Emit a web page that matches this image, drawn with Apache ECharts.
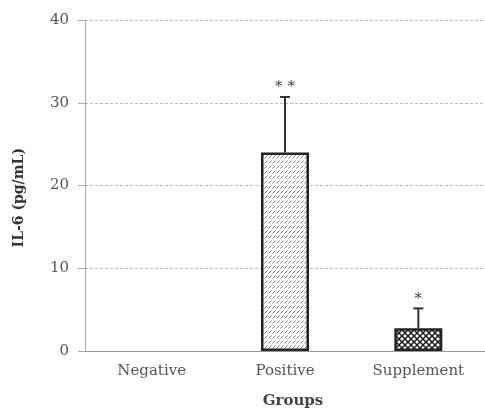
<!DOCTYPE html>
<html><head><meta charset="utf-8">
<script src="https://cdn.jsdelivr.net/npm/echarts@6/dist/echarts.min.js"></script>
<style>html,body{margin:0;padding:0;background:#fff}#c{width:485px;height:414px}</style>
</head><body><div id="c"></div>
<script>
const categories = ['Negative', 'Positive', 'Supplement'];
const means = [0, 24, 2.75];
const errorTops = [0, 30.7, 5.15];
const marks = ['', '* *', '*'];
const yTicks = [0, 10, 20, 30, 40];

function hatch() {
  const c = document.createElement('canvas'); c.width = 4; c.height = 5;
  const g = c.getContext('2d');
  g.fillStyle = '#fff'; g.fillRect(0, 0, 4, 5);
  g.strokeStyle = '#777'; g.lineWidth = 1;
  g.beginPath(); g.moveTo(0.5, 3.5); g.lineTo(3.5, 0.5); g.stroke();
  return c;
}
function cross() {
  const c = document.createElement('canvas'); c.width = 6; c.height = 6;
  const g = c.getContext('2d');
  g.fillStyle = '#fff'; g.fillRect(0, 0, 6, 6);
  g.strokeStyle = '#1a1a1a'; g.lineWidth = 1.5;
  g.beginPath(); g.moveTo(0, 0); g.lineTo(6, 6); g.moveTo(6, 0); g.lineTo(0, 6); g.stroke();
  return c;
}
const patterns = [null, hatch(), cross()];

const chart = echarts.init(document.getElementById('c'));
const font = '"DejaVu Serif", "Liberation Serif", serif';
chart.setOption({
  animation: false,
  grid: { left: 85, width: 417, top: 20, bottom: 60 },
  xAxis: {
    type: 'category', data: categories,
    axisLine: { lineStyle: { color: '#999' } },
    axisTick: { show: false },
    axisLabel: { color: '#555', fontFamily: font, fontSize: 15, margin: 13 },
    name: 'Groups', nameLocation: 'middle', nameGap: 43,
    nameTextStyle: { color: '#444', fontFamily: font, fontSize: 15, fontWeight: 'bold', padding: [0, 0, 0, 16] }
  },
  yAxis: {
    type: 'value', min: 0, max: 40, interval: 10,
    axisLine: { show: true, lineStyle: { color: '#aaa' } },
    axisTick: { show: true, length: 7, lineStyle: { color: '#aaa' } },
    axisLabel: { color: '#555', fontFamily: font, fontSize: 15, margin: 16,
      formatter: v => yTicks.includes(v) ? String(v) : '' },
    splitLine: { lineStyle: { color: '#bbb', type: [3, 2] } }
  },
  graphic: [{
    type: 'text', left: 12, top: 148, rotation: Math.PI / 2,
    style: { text: 'IL-6 (pg/mL)', fill: '#333', font: 'bold 14px ' + font }
  }],
  series: [
    {
      type: 'bar', barWidth: '36%',
      data: means.map((v, i) => ({
        value: v,
        itemStyle: patterns[i] ? { color: { image: patterns[i], repeat: 'repeat' }, borderColor: '#222', borderWidth: 2.5 } : { color: 'transparent' }
      }))
    },
    {
      type: 'custom',
      data: means.map((v, i) => [i, v, errorTops[i]]),
      renderItem: (params, api) => {
        const i = api.value(0);
        const base = api.coord([i, api.value(1)]);
        const top = api.coord([i, api.value(2)]);
        const m = marks[i];
        if (!m) return { type: 'group', children: [] };
        return {
          type: 'group',
          children: [
            { type: 'line', shape: { x1: base[0], y1: base[1], x2: top[0], y2: top[1] }, style: { stroke: '#333', lineWidth: 2 } },
            { type: 'line', shape: { x1: top[0] - 5, y1: top[1], x2: top[0] + 5, y2: top[1] }, style: { stroke: '#333', lineWidth: 2 } },
            { type: 'text', x: top[0], y: top[1] - 2, style: { text: m, fill: '#444', font: '15px ' + font, textAlign: 'center', textVerticalAlign: 'bottom' } }
          ]
        };
      }
    }
  ]
});
</script></body></html>
